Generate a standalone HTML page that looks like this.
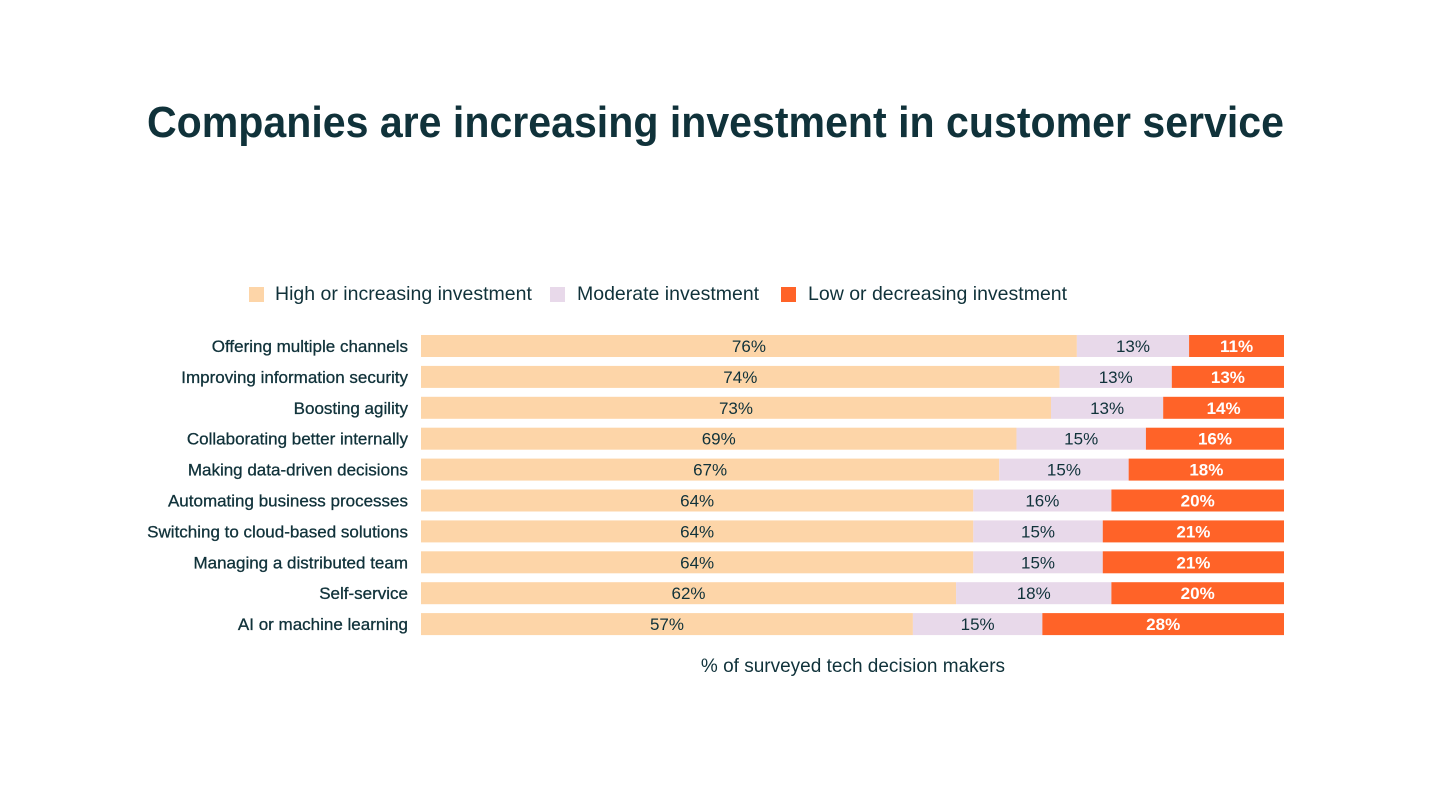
<!DOCTYPE html>
<html><head><meta charset="utf-8"><style>
body{margin:0;background:#fff;width:1432px;height:803px;overflow:hidden;font-family:"Liberation Sans",sans-serif;}
</style></head><body>
<svg id="chart" width="1432" height="803" xmlns="http://www.w3.org/2000/svg">
<text x="147" y="137" font-size="44" font-weight="bold" fill="#10323a" textLength="1137" lengthAdjust="spacingAndGlyphs">Companies are increasing investment in customer service</text>
<g>
<rect x="249" y="287" width="15" height="15" fill="#fdd5a8"/>
<text x="275" y="300" font-size="19.5" fill="#10323a">High or increasing investment</text>
<rect x="550" y="287" width="15" height="15" fill="#e8d9ea"/>
<text x="577" y="300" font-size="19.5" fill="#10323a">Moderate investment</text>
<rect x="781" y="287" width="15" height="15" fill="#ff6328"/>
<text x="808" y="300" font-size="19.5" fill="#10323a">Low or decreasing investment</text>
</g>
<g id="bars"></g>
<text x="853" y="672" font-size="19" fill="#10323a" text-anchor="middle">% of surveyed tech decision makers</text>
</svg>
<script>
const categories=["Offering multiple channels","Improving information security","Boosting agility","Collaborating better internally","Making data-driven decisions","Automating business processes","Switching to cloud-based solutions","Managing a distributed team","Self-service","AI or machine learning"];
const high=[76,74,73,69,67,64,64,64,62,57];
const moderate=[13,13,13,15,15,16,15,15,18,15];
const low=[11,13,14,16,18,20,21,21,20,28];
const NS="http://www.w3.org/2000/svg";
const x0=421,x1=1284;
const xs=v=>x0+(x1-x0)*v/100;
const yc=i=>346+i*30.9;
const g=document.getElementById('bars');
const series=[{d:high,c:"#fdd5a8",t:"#10323a",n:"high"},{d:moderate,c:"#e8d9ea",t:"#10323a",n:"moderate"},{d:low,c:"#ff6328",t:"#ffffff",n:"low"}];
categories.forEach((cat,i)=>{
  const lab=document.createElementNS(NS,'text');
  lab.setAttribute('x',408);lab.setAttribute('y',yc(i)+6);
  lab.setAttribute('text-anchor','end');lab.setAttribute('font-size','17');lab.setAttribute('fill','#10323a');
  lab.setAttribute('stroke','#10323a');lab.setAttribute('stroke-width','0.3');
  lab.textContent=cat;
  
  
  g.appendChild(lab);
  let acc=0;
  const tot=high[i]+moderate[i]+low[i];
  series.forEach(s=>{
    const v=s.d[i]/tot*100;
    const r=document.createElementNS(NS,'rect');
    r.setAttribute('x',xs(acc));r.setAttribute('y',yc(i)-11);
    r.setAttribute('width',xs(acc+v)-xs(acc));r.setAttribute('height',22);
    r.setAttribute('fill',s.c);
    
    
    g.appendChild(r);
    const t=document.createElementNS(NS,'text');
    t.setAttribute('x',(xs(acc)+xs(acc+v))/2);t.setAttribute('y',yc(i)+6);
    t.setAttribute('text-anchor','middle');t.setAttribute('font-size','17');
    t.setAttribute('fill',s.t);if(s.n==='low')t.setAttribute('font-weight','bold');
    t.textContent=s.d[i]+'%';
    
    
    g.appendChild(t);
    acc+=v;
  });
});
</script>
</body></html>
